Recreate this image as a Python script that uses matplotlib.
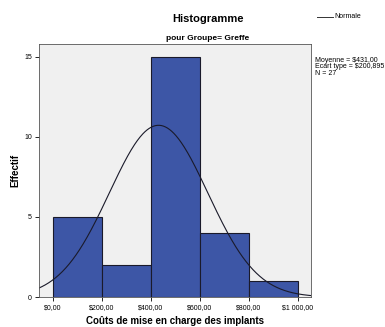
import numpy as np
import matplotlib
matplotlib.use("Agg")
import matplotlib.pyplot as plt

# données
bin_edges = [0, 200, 400, 600, 800, 1000]
counts = [5, 2, 15, 4, 1]
moyenne = 431.00
ecart_type = 200.895
n_obs = 27
x_ticks = [0, 200, 400, 600, 800, 1000]
x_labels = ["$0,00", "$200,00", "$400,00", "$600,00", "$800,00", "$1 000,00"]
y_ticks = [0, 5, 10, 15]

plt.rcParams["font.family"] = ["Liberation Sans", "DejaVu Sans"]

W, H = 385, 327
fig = plt.figure(figsize=(W / 100, H / 100), dpi=100)
ax = fig.add_axes([39 / W, 1 - 297 / H, (311 - 39) / W, (297 - 44) / H])
ax.set_facecolor("#f0f0f0")

widths = np.diff(bin_edges)
ax.bar(bin_edges[:-1], counts, width=widths, align="edge", color="#3d56a6",
       edgecolor="#1a1a2a", linewidth=0.8)

# courbe normale
xs = np.linspace(-60, 1060, 400)
bw = 200
ys = n_obs * bw / (ecart_type * np.sqrt(2 * np.pi)) * np.exp(-0.5 * ((xs - moyenne) / ecart_type) ** 2)
ax.plot(xs, ys, color="#1a1a2a", lw=0.8)

ax.set_xlim(-57, 1053)
ax.set_ylim(0, 15.8)
ax.set_xticks(x_ticks)
ax.set_xticklabels(x_labels, fontsize=5)
ax.set_yticks(y_ticks)
ax.set_yticklabels([str(v) for v in y_ticks], fontsize=5)
ax.tick_params(length=3, width=0.6, pad=2)
for s in ax.spines.values():
    s.set_linewidth(0.6)
    s.set_color("#555555")

fig.text(175 / W, 1 - 321 / H, "Coûts de mise en charge des implants",
         ha="center", va="center", fontsize=7, fontweight="bold")
fig.text(15 / W, 1 - 170 / H, "Effectif", ha="center", va="center",
         rotation=90, fontsize=7, fontweight="bold")

fig.text(208 / W, 1 - 19 / H, "Histogramme", ha="center", va="center", fontsize=8, fontweight="bold")
fig.text(208 / W, 1 - 38 / H, "pour Groupe= Greffe", ha="center", va="center", fontsize=6, fontweight="bold")

# légende
fig.add_artist(plt.Line2D([317 / W, 333 / W], [1 - 17 / H, 1 - 17 / H],
                          color="#333333", lw=0.7))
fig.text(334 / W, 1 - 17 / H, "Normale", ha="left", va="center", fontsize=5)

fig.text(315 / W, 1 - 67 / H,
         "Moyenne = $431,00\nEcart type = $200,895\nN = 27",
         ha="left", va="center", fontsize=5, linespacing=0.95)

fig.savefig("out.png", dpi=100)
